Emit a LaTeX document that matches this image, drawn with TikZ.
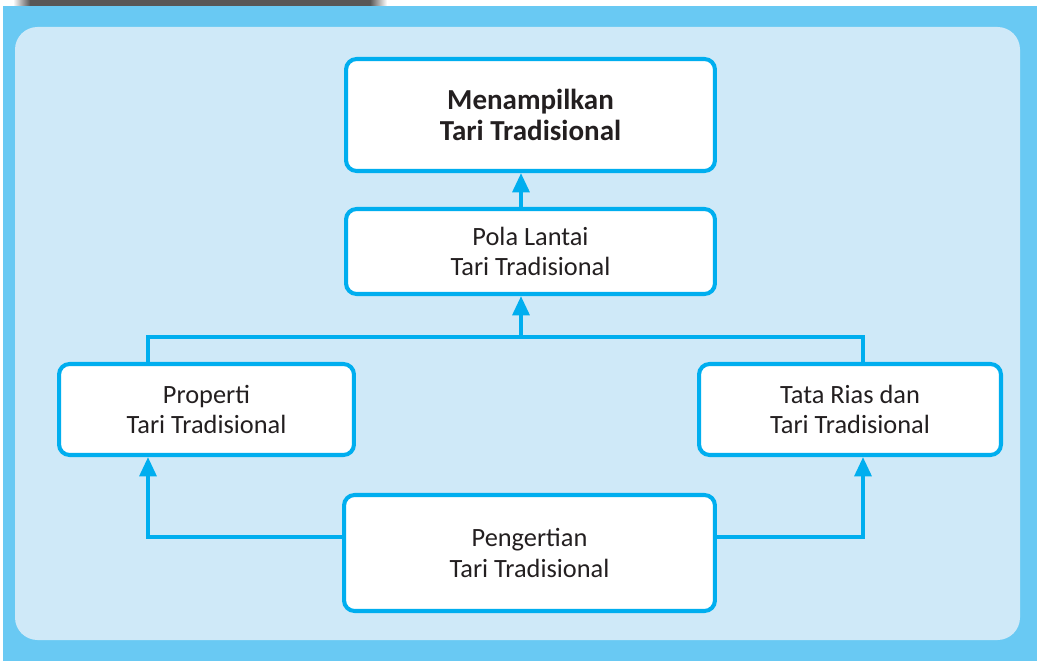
\documentclass[tikz,border=0pt]{standalone}
\usepackage{fontspec}
\setmainfont{Carlito}
\usetikzlibrary{positioning, arrows.meta}
\definecolor{outerBlue}{HTML}{69C9F3}
\definecolor{innerBlue}{HTML}{CFE9F8}
\definecolor{lineBlue}{HTML}{00AEEF}
\definecolor{barGray}{HTML}{595756}
\definecolor{textDark}{HTML}{231F20}

\begin{document}
\begin{tikzpicture}[
    x=0.02cm, y=-0.02cm,
    box/.style={rectangle, draw=lineBlue, fill=white, line width=2.3pt,
        rounded corners=6pt, align=center, text=textDark,
        font=\fontsize{15}{17.5}\selectfont},
    link/.style={draw=lineBlue, line width=2.3pt},
    arr/.style={link, -{Triangle[length=11pt, width=9.5pt]}}
]
    \useasboundingbox (0,0) rectangle (1037,661);

    % Latar
    \fill[white] (0,0) rectangle (1037,661);
    \fill[outerBlue] (3,6) rectangle (1037,661);
    \shade[left color=white, right color=barGray] (13,0) rectangle (30,6);
    \fill[barGray] (30,0) rectangle (370,6);
    \shade[left color=barGray, right color=white] (370,0) rectangle (387,6);
    \fill[innerBlue, rounded corners=0.45cm] (15,27) rectangle (1020,640);

    % Kotak
    \node[box, minimum width=7.38cm, minimum height=2.24cm,
        font=\fontsize{16.5}{18}\selectfont\bfseries] (tampil) at (530.5,115)
        {Menampilkan\\Tari Tradisional};
    \node[box, minimum width=7.38cm, minimum height=1.7cm] (pola) at (530.5,251.5)
        {Pola Lantai\\Tari Tradisional};
    \node[box, minimum width=5.9cm, minimum height=1.82cm] (properti) at (206.5,409.5)
        {Properti\\Tari Tradisional};
    \node[box, minimum width=6.04cm, minimum height=1.82cm] (rias) at (850,409.5)
        {Tata Rias dan\\Tari Tradisional};
    \node[box, minimum width=7.42cm, minimum height=2.32cm] (pengertian) at (529.5,553)
        {Pengertian\\Tari Tradisional};

    % Titik sambung
    \coordinate (tengah) at (521,337);
    \coordinate (kiri) at (148,337);
    \coordinate (kanan) at (863,337);
    \coordinate (bawahkiri) at (148,537);
    \coordinate (bawahkanan) at (863,537);

    % Panah
    \draw[arr] (pola.north -| tengah) -- (tampil.south -| tengah);
    \draw[link] (properti.north -| kiri) -- (kiri) -- (kanan) -- (rias.north -| kanan);
    \draw[arr] (tengah) -- (pola.south -| tengah);
    \draw[arr] (pengertian.west |- bawahkiri) -| (properti.south -| bawahkiri);
    \draw[arr] (pengertian.east |- bawahkanan) -| (rias.south -| bawahkanan);
\end{tikzpicture}
\end{document}
